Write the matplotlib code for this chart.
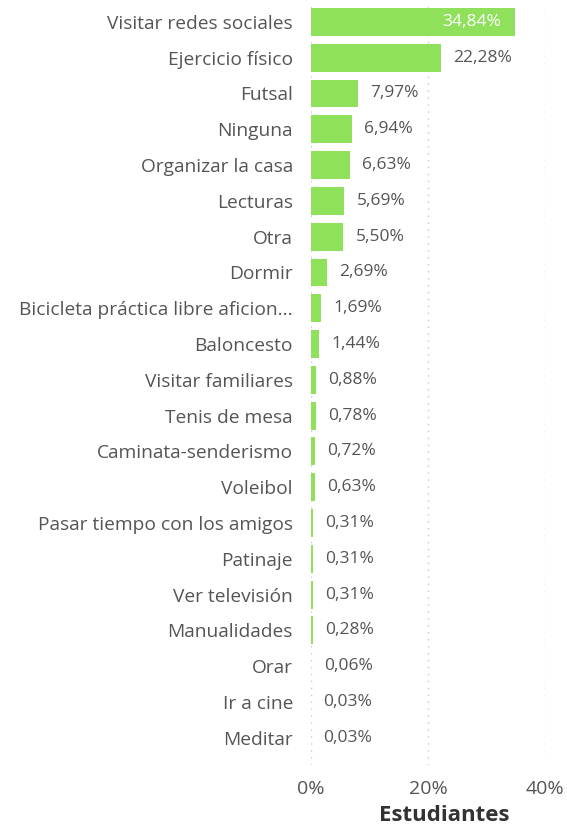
import matplotlib.pyplot as plt

categorias = [
    "Visitar redes sociales", "Ejercicio físico", "Futsal", "Ninguna",
    "Organizar la casa", "Lecturas", "Otra", "Dormir",
    "Bicicleta práctica libre aficion...", "Baloncesto", "Visitar familiares",
    "Tenis de mesa", "Caminata-senderismo", "Voleibol",
    "Pasar tiempo con los amigos", "Patinaje", "Ver televisión",
    "Manualidades", "Orar", "Ir a cine", "Meditar",
]
valores = [34.84, 22.28, 7.97, 6.94, 6.63, 5.69, 5.50, 2.69, 1.69, 1.44,
           0.88, 0.78, 0.72, 0.63, 0.31, 0.31, 0.31, 0.28, 0.06, 0.03, 0.03]
ticks = [0, 20, 40]

plt.rcParams['font.family'] = ['Open Sans', 'DejaVu Sans']
gris = '#555555'
verde = '#8fe15c'

fig = plt.figure(figsize=(5.67, 8.34), dpi=100)
ax = fig.add_axes([311/567, 1 - 765/834, (545 - 311)/567, (765 - 4)/834])

y = list(range(len(categorias)))
ax.barh(y, valores, height=0.78, color=verde, zorder=2)

for i, v in enumerate(valores):
    txt = f"{v:.2f}%".replace('.', ',')
    if i == 0:
        ax.text(v - 2.3, i, txt, ha='right', va='center', color='white', fontsize=12.5)
    else:
        ax.text(v + 2.1, i, txt, ha='left', va='center', color=gris, fontsize=12.5)

ax.set_xlim(0, 40)
ax.set_ylim(20.76, -0.5)
ax.set_yticks(y)
ax.set_yticklabels(categorias, fontsize=13.8, color=gris)
ax.set_xticks(ticks)
ax.set_xticklabels([f"{t}%" for t in ticks], fontsize=14, color=gris)
ax.tick_params(axis='y', length=0, pad=13)
ax.tick_params(axis='x', length=0, pad=11)
for t in ticks:
    ax.axvline(t, color='#c8c8c8', linestyle=(0, (1, 4)), linewidth=1, zorder=1)
for s in ax.spines.values():
    s.set_visible(False)

ax.set_xlabel("Estudiantes", fontsize=16, fontweight='bold', color='#333333')
ax.xaxis.set_label_coords(0.57, -0.052)

fig.savefig('out.png', dpi=100)
